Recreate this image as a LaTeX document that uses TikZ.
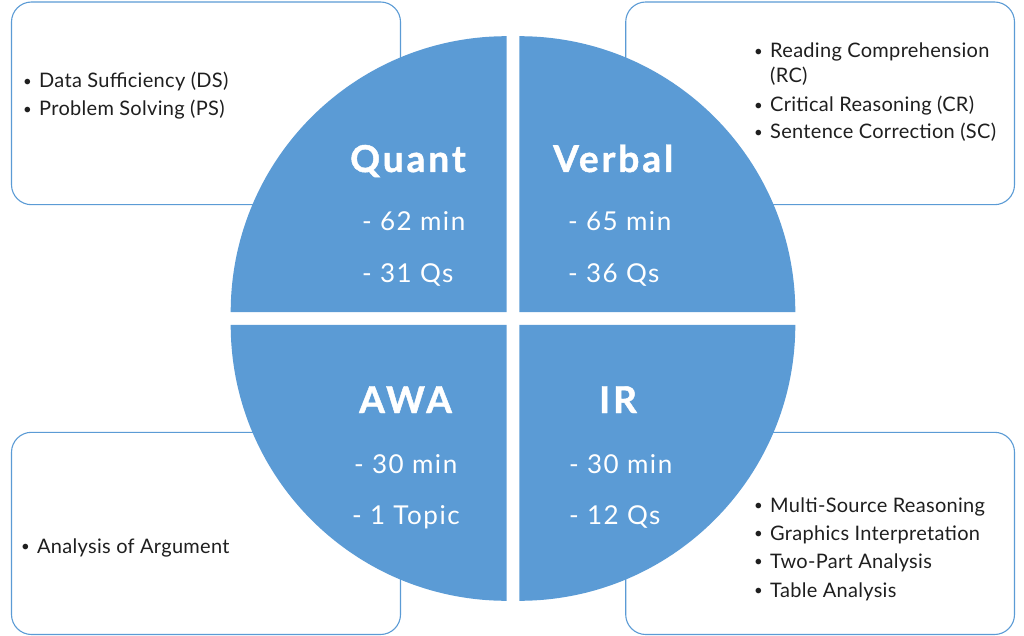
\documentclass[tikz,border=0pt]{standalone}
\usepackage{fontspec}
\setmainfont{Lato}
\newfontfamily\titlefont[LetterSpace=8, BoldFeatures={FakeBold=1.2}]{Lato}
\newfontfamily\linefont[LetterSpace=6]{Lato}
\newfontfamily\itemfont[LetterSpace=1.5]{Lato}
\definecolor{gblue}{HTML}{5B9BD5}
\begin{document}
\begin{tikzpicture}[x=1pt,y=-1pt,
  infobox/.style={draw=gblue, line width=1.1pt, rounded corners=20pt, fill=white},
  quad/.style={fill=gblue, draw=none},
  item/.style={anchor=base west, inner sep=0pt, text=black!88, font=\itemfont\fontsize{20}{23}\selectfont},
  bul/.style={anchor=base west, inner sep=0pt, text=black!88, font=\fontsize{15}{18}\selectfont},
  qtitle/.style={anchor=base west, inner sep=0pt, text=white, font=\titlefont\fontsize{37}{40}\selectfont\bfseries},
  qline/.style={anchor=base west, inner sep=0pt, text=white, font=\linefont\fontsize{26}{29}\selectfont}]
\useasboundingbox (0,0) rectangle (1024,636);
% boxes
\draw[infobox] (11.5,2) rectangle (400.5,204.7);
\draw[infobox] (625.7,2) rectangle (1014.5,204.7);
\draw[infobox] (11.5,432.3) rectangle (400.5,634.5);
\draw[infobox] (625.7,432.3) rectangle (1014.5,634.5);
% quadrants
\fill[quad] (506.7,312.2) -- ++(0,-276) arc[start angle=270, end angle=180, radius=276] -- cycle;
\fill[quad] (519.3,312.2) -- ++(0,-276) arc[start angle=270, end angle=360, radius=276] -- cycle;
\fill[quad] (506.7,324.8) -- ++(-276,0) arc[start angle=180, end angle=90, radius=276] -- cycle;
\fill[quad] (519.3,324.8) -- ++(276,0) arc[start angle=0, end angle=90, radius=276] -- cycle;
% quadrant texts
\node[qtitle] (qt) at (350,172) {Quant};
\node[qline] (q1) at (362,231) {- 62 min};
\node[qline] (q2) at (362,282) {- 31 Qs};
\node[qtitle] (vt) at (553,172) {Verbal};
\node[qline] (v1) at (568,231) {- 65 min};
\node[qline] (v2) at (568,282) {- 36 Qs};
\node[qtitle] (at) at (359,413) {AWA};
\node[qline] (a1) at (354,473) {- 30 min};
\node[qline] (a2) at (352,524) {- 1 Topic};
\node[qtitle] (it) at (599,413) {IR};
\node[qline] (i1) at (569,473) {- 30 min};
\node[qline] (i2) at (569,524) {- 12 Qs};
% top-left list
\node[bul] (b1) at (23,86.5) {•};
\node[item] (t1) at (39,88) {Data Sufficiency (DS)};
\node[bul] (b2) at (23,114.5) {•};
\node[item] (t2) at (39,116) {Problem Solving (PS)};
% top-right list
\node[bul] (b3) at (754,56.5) {•};
\node[item] (t3) at (770,58) {Reading Comprehension};
\node[item] (t3b) at (770,83) {(RC)};
\node[bul] (b4) at (754,110.5) {•};
\node[item] (t4) at (770,112) {Critical Reasoning (CR)};
\node[bul] (b5) at (754,137.5) {•};
\node[item] (t5) at (770,139) {Sentence Correction (SC)};
% bottom-left list
\node[bul] (b6) at (21,551.5) {•};
\node[item] (t6) at (37,553) {Analysis of Argument};
% bottom-right list
\node[bul] (b7) at (754,510.5) {•};
\node[item] (t7) at (770,512) {Multi-Source Reasoning};
\node[bul] (b8) at (754,538.5) {•};
\node[item] (t8) at (770,540) {Graphics Interpretation};
\node[bul] (b9) at (754,566.5) {•};
\node[item] (t9) at (770,568) {Two-Part Analysis};
\node[bul] (b10) at (754,595.5) {•};
\node[item] (t10) at (770,597) {Table Analysis};
\end{tikzpicture}
\end{document}
